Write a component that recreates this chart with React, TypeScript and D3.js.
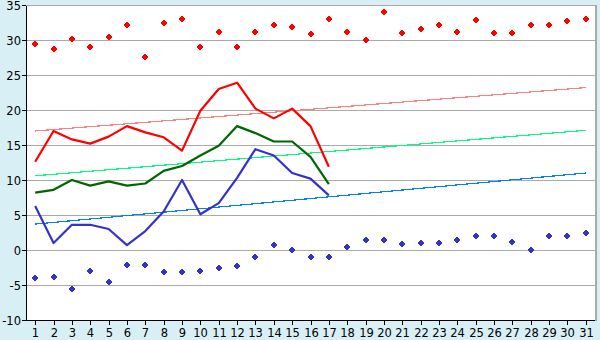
import React from "react";
import * as d3 from "d3";

const days = d3.range(1, 32).map(String);
const yTicks = [-10, -5, 0, 5, 10, 15, 20, 25, 30, 35];

const maxDots = [29.5, 28.7, 30.2, 29.0, 30.4, 32.2, 27.5, 32.4, 33.0, 29.0, 31.1, 29.0, 31.1, 32.2, 31.8, 30.8, 33.0, 31.1, 30.0, 34.0, 31.0, 31.5, 32.2, 31.2, 32.8, 31.0, 31.0, 32.2, 32.2, 32.7, 33.0];
const minDots = [-4.05, -3.9, -5.5, -3.0, -4.6, -2.2, -2.2, -3.2, -3.2, -3.0, -2.6, -2.3, -1.0, 0.7, 0.0, -1.0, -1.0, 0.4, 1.4, 1.4, 0.8, 1.0, 1.0, 1.5, 2.0, 2.0, 1.1, 0.0, 2.0, 2.0, 2.4];
const redLine = [12.6, 17.0, 15.8, 15.2, 16.2, 17.7, 16.8, 16.1, 14.2, 19.9, 23.0, 23.9, 20.2, 18.8, 20.2, 17.7, 11.9];
const greenLine = [8.2, 8.6, 10.0, 9.2, 9.8, 9.2, 9.5, 11.3, 12.0, 13.5, 14.9, 17.7, 16.7, 15.5, 15.5, 13.3, 9.4];
const blueLine = [6.3, 1.0, 3.6, 3.6, 3.0, 0.7, 2.7, 5.5, 10.0, 5.1, 6.7, 10.3, 14.4, 13.5, 11.0, 10.2, 7.8];
const redTrend = [17.0, 23.2];
const greenTrend = [10.6, 17.1];
const blueTrend = [3.7, 11.0];

const W = 600, H = 340;
const L = 26, R = 595, T = 5, B = 320;

export default function App() {
  const x = d3.scaleBand<string>().domain(days).range([L, R]);
  const cx = (i: number) => (x(days[i]) as number) + x.bandwidth() / 2;
  const y = d3.scaleLinear().domain([-10, 35]).range([B, T]);
  const line = d3.line<number>().x((_, i) => cx(i)).y((d) => y(d));
  const trend = (t: number[]) => ({ x1: cx(0), y1: y(t[0]), x2: cx(30), y2: y(t[1]) });
  const marker = "M-1,-3h2v1h1v1h1v2h-1v1h-1v1h-2v-1h-1v-1h-1v-2h1v-1h1z";
  const font = "DejaVu Sans, Verdana, sans-serif";
  const series = [
    { d: redLine, c: "#ff0000" },
    { d: greenLine, c: "#006600" },
    { d: blueLine, c: "#3333cc" },
  ];
  const trends = [
    { t: redTrend, c: "#ff8080" },
    { t: greenTrend, c: "#00ff80" },
    { t: blueTrend, c: "#0080ff" },
  ];
  return (
    <div style={{ position: "absolute", left: 0, top: 0 }}>
      <svg width={W} height={H} style={{ display: "block" }}>
        <rect x={0} y={0} width={W} height={H} fill="#d9eff6" />
        <rect x={L} y={T} width={R - L} height={B - T} fill="#ffffff" />
        {yTicks.map((t) => (
          <g key={t}>
            <line x1={L} x2={R} y1={y(t) + 0.5} y2={y(t) + 0.5} stroke="#aaaaaa" shapeRendering="crispEdges" />
            <line x1={L - 4} x2={L} y1={y(t) + 0.5} y2={y(t) + 0.5} stroke="#000" shapeRendering="crispEdges" />
            <text x={L - 5} y={y(t) + 4.5} textAnchor="end" fontFamily={font} fontSize={11.5} fill="#000">
              {String(t)}
            </text>
          </g>
        ))}
        <line x1={L + 0.5} x2={L + 0.5} y1={T} y2={B} stroke="#000" shapeRendering="crispEdges" />
        <line x1={R + 0.5} x2={R + 0.5} y1={T} y2={B + 1} stroke="#aaaaaa" strokeWidth={2} shapeRendering="crispEdges" />
        <line x1={L} x2={R} y1={T + 0.5} y2={T + 0.5} stroke="#aaaaaa" strokeWidth={1} shapeRendering="crispEdges" />
        {days.map((dd, i) => (
          <g key={dd}>
            <line x1={Math.round(cx(i)) + 0.5} x2={Math.round(cx(i)) + 0.5} y1={B} y2={B + 5} stroke="#000" shapeRendering="crispEdges" />
            <text x={Math.round(cx(i)) + 0.5} y={B + 17} textAnchor="middle" fontFamily={font} fontSize={11.5} fill="#000">
              {dd}
            </text>
          </g>
        ))}
        <line x1={L} x2={R} y1={B + 0.5} y2={B + 0.5} stroke="#000" shapeRendering="crispEdges" />
        {trends.map((tr, i) => {
          const p = trend(tr.t);
          return <line key={i} {...p} stroke={tr.c} strokeWidth={1.2} shapeRendering="crispEdges" />;
        })}
        {series.map((s, i) => (
          <path key={i} d={line(s.d) as string} fill="none" stroke={s.c} strokeWidth={2.2} strokeLinejoin="round" />
        ))}
        {maxDots.map((v, i) => (
          <path key={"mx" + i} d={marker} transform={`translate(${Math.round(cx(i))},${Math.round(y(v))})`} fill="#ff0000" shapeRendering="crispEdges" />
        ))}
        {minDots.map((v, i) => (
          <path key={"mn" + i} d={marker} transform={`translate(${Math.round(cx(i))},${Math.round(y(v))})`} fill="#3333cc" shapeRendering="crispEdges" />
        ))}
      </svg>
    </div>
  );
}
